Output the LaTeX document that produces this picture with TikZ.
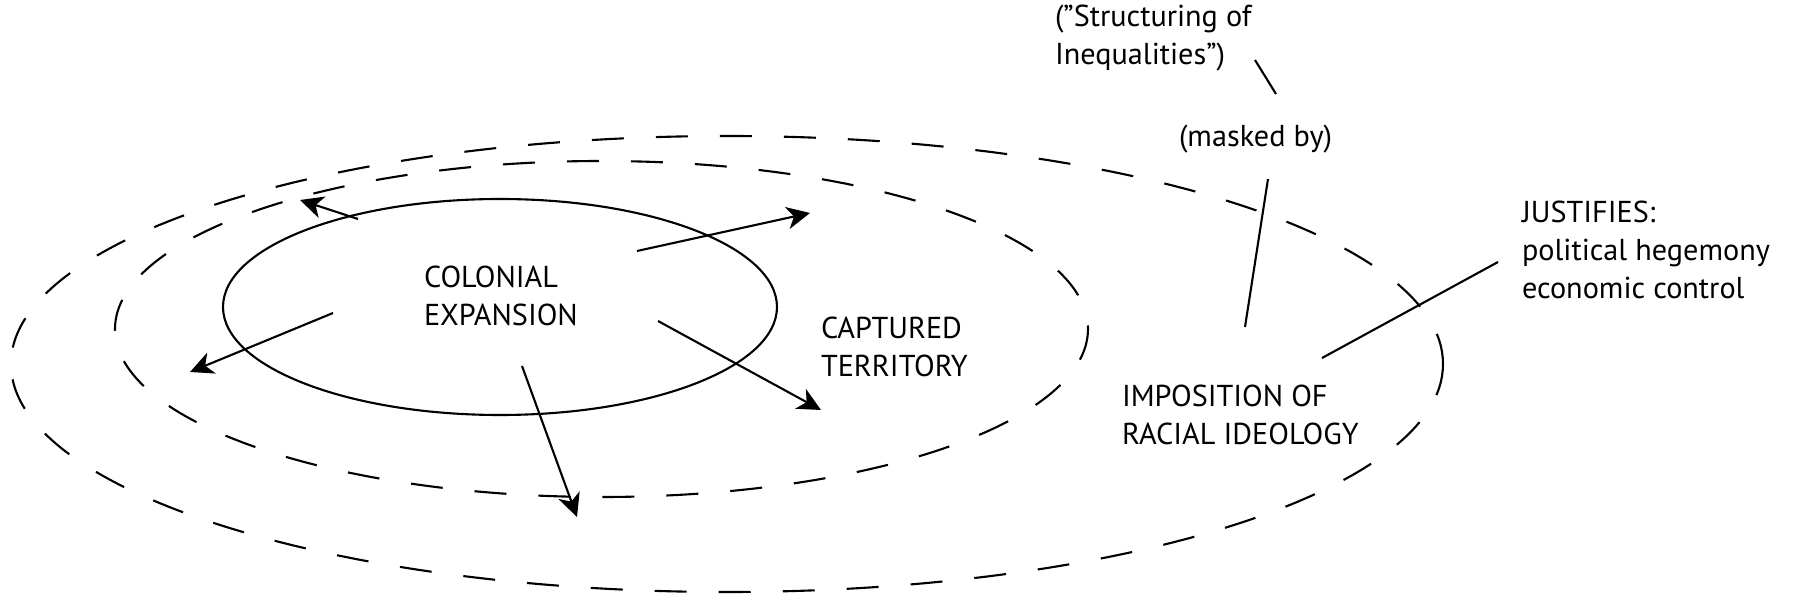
\documentclass[tikz,border=0pt]{standalone}
\usepackage{fontspec}
\setmainfont{PT Sans}
\usetikzlibrary{arrows.meta}
\tikzset{
  lbl/.style={anchor=base west, inner sep=0pt, outer sep=0pt, align=left,
              font=\fontsize{21.5pt}{27.2pt}\selectfont},
  ring/.style={line width=1.5pt},
  dashring/.style={line width=1.5pt, dash pattern=on 0.8cm off 0.8cm},
  outarrow/.style={line width=1.5pt, -{Stealth[length=0.58cm, width=0.56cm, inset=0.17cm]}},
  link/.style={line width=1.5pt}
}
\begin{document}
\begin{tikzpicture}[x=0.025cm, y=-0.025cm]
\useasboundingbox (0,0) rectangle (1798,602);
% rings
\draw[dashring] (727,364) ellipse [x radius=716, y radius=228];
\draw[dashring] (601.5,329) ellipse [x radius=486.5, y radius=168];
\draw[ring] (500,307) ellipse [x radius=277, y radius=108];
% labels (anchored at the baseline of their last line)
\node[lbl] (colonial) at (424,326) {COLONIAL\\EXPANSION};
\node[lbl] (captured) at (821,377) {CAPTURED\\TERRITORY};
\node[lbl] (imposition) at (1122,445) {IMPOSITION OF\\RACIAL IDEOLOGY};
\node[lbl] (justifies) at (1522,299) {JUSTIFIES:\\political hegemony\\economic control};
\node[lbl] (structuring) at (1055,65) {(”Structuring of\\Inequalities”)};
\node[lbl] (masked) at (1179,147) {(masked by)};
% arrow ends
\coordinate (a1s) at (358,219); \coordinate (a1e) at (300,200);
\coordinate (a2s) at (637,251); \coordinate (a2e) at (810,213);
\coordinate (a3s) at (333,313); \coordinate (a3e) at (190,372);
\coordinate (a4s) at (658,321); \coordinate (a4e) at (821,410);
\coordinate (a5s) at (522,366); \coordinate (a5e) at (577,517);
\draw[outarrow] (a1s) -- (a1e);
\draw[outarrow] (a2s) -- (a2e);
\draw[outarrow] (a3s) -- (a3e);
\draw[outarrow] (a4s) -- (a4e);
\draw[outarrow] (a5s) -- (a5e);
% connector ends
\coordinate (s1) at (1255,60); \coordinate (s2) at (1276,94);
\coordinate (m1) at (1268,179); \coordinate (m2) at (1245,327);
\coordinate (j1) at (1498,262); \coordinate (j2) at (1322,358);
\draw[link] (s1) -- (s2);
\draw[link] (m1) -- (m2);
\draw[link] (j1) -- (j2);
\end{tikzpicture}
\end{document}
